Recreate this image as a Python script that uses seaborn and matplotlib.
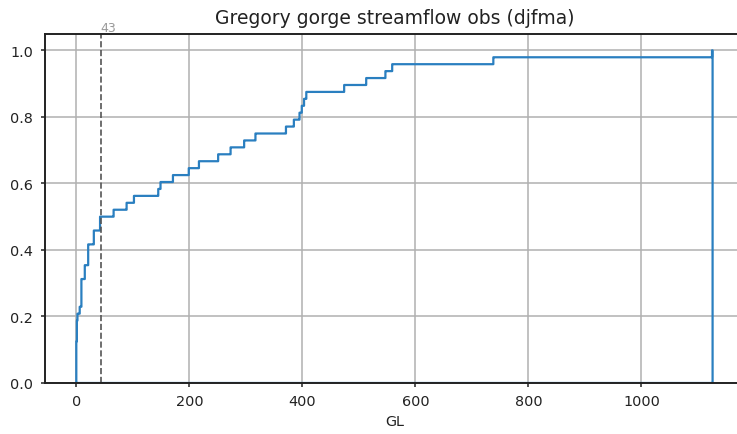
import matplotlib
matplotlib.use("Agg")
import matplotlib.pyplot as plt
import seaborn as sns
import numpy as np

gl_values = [
    0.0, 0.0, 0.1, 0.2, 0.3, 0.5,
    1.5, 1.7, 1.9, 2.0,
    6.0,
    9.0, 9.3, 9.6, 9.8,
    15.0, 15.5,
    21.0, 21.3, 21.6,
    31.0, 31.5,
    42.0, 42.5,
    66.8, 89.3, 102.2, 145.3, 149.5, 171.3, 199.7, 217.4, 251.6, 273.6,
    297.2, 317.9, 371.0, 385.8, 395.8, 399.4, 403.4, 407.5, 474.3, 513.8,
    547.0, 559.9, 738.3, 1125.8,
]
threshold = 43
title = "Gregory gorge streamflow obs (djfma)"
xlabel = "GL"

plt.rcParams.update({
    "font.family": ["DejaVu Sans"],
    "axes.linewidth": 1.4,
    "axes.edgecolor": "#222222",
    "xtick.major.size": 3.2,
    "ytick.major.size": 3.2,
    "xtick.major.width": 1.1,
    "ytick.major.width": 1.1,
    "xtick.major.pad": 5,
    "ytick.major.pad": 5,
    "xtick.labelsize": 10.4,
    "ytick.labelsize": 10.4,
    "xtick.color": "#222222",
    "ytick.color": "#222222",
})

line_color = "#2a7fc0"

fig = plt.figure(figsize=(7.37, 4.35), dpi=100)
ax = fig.add_axes([44.5 / 737, 51 / 435, (744.4 - 44.5) / 737, 349.3 / 435])

sns.histplot(x=gl_values, bins=1126, stat="density", cumulative=True,
             element="step", fill=True, color=line_color, facecolor="none",
             edgecolor=line_color, alpha=1, linewidth=1.6, ax=ax)

ax.axvline(threshold, color="#555555", linestyle="--", linewidth=1.2)
ax.text(threshold, 1.05, str(threshold), color="#999999", fontsize=9,
        ha="left", va="bottom")

ax.set_ylim(0, 1.05)
ax.set_yticks([0.0, 0.2, 0.4, 0.6, 0.8, 1.0])
ax.set_xticks([0, 200, 400, 600, 800, 1000])
ax.grid(True, color="#b0b0b0", linewidth=1.1)
ax.set_axisbelow(True)
for s in ax.spines.values():
    s.set_zorder(5)
ax.set_ylabel("")
ax.set_xlabel(xlabel, fontsize=10.4, color="#222222")
ax.set_title(title, fontsize=13.5, color="#222222", pad=8)

fig.savefig("out.png", dpi=100)
